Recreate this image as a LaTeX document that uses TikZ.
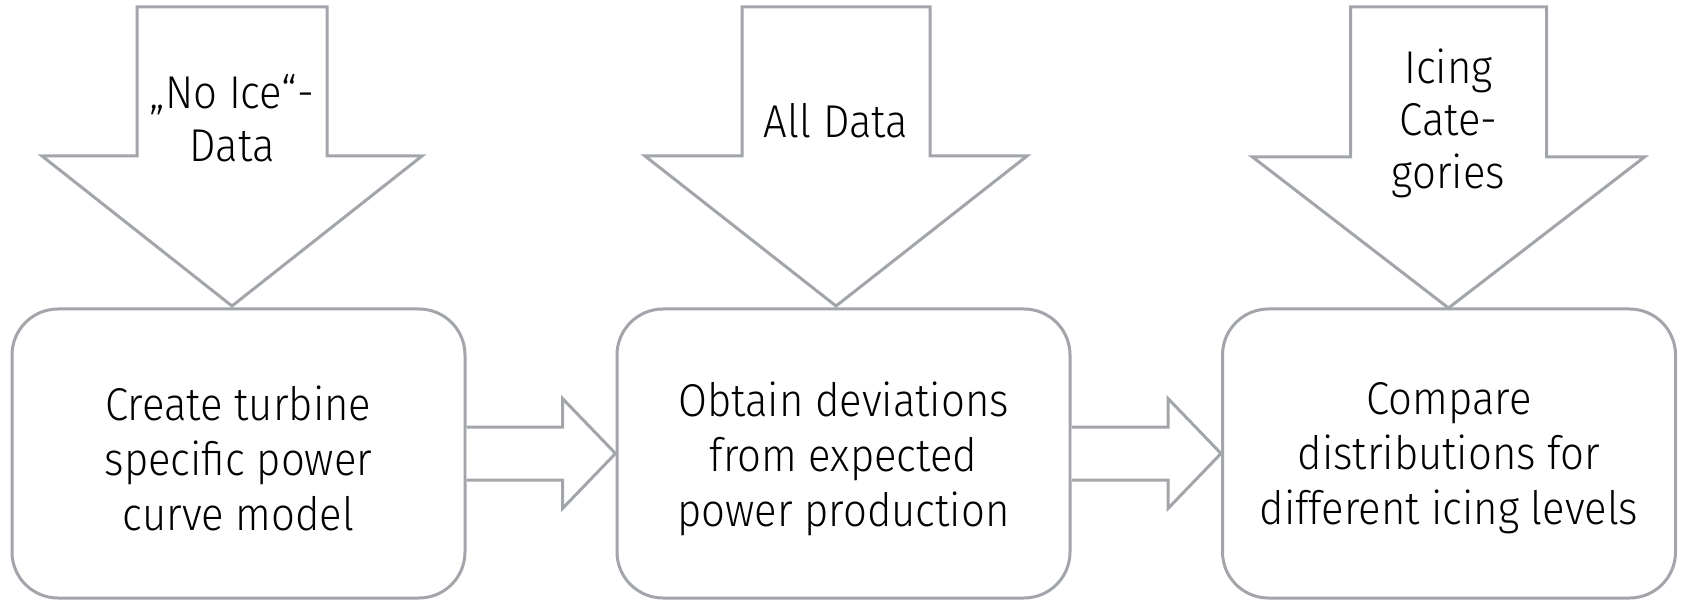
\documentclass[tikz,border=0pt]{standalone}
\usepackage{fontspec}
\IfFontExistsTF{Fira Sans Light}{\setmainfont{Fira Sans Light}[FakeStretch=0.91]}{\setmainfont{Fira Sans}[FakeStretch=0.91]}
\usetikzlibrary{calc}
\definecolor{linegray}{HTML}{A2A5AA}

\tikzset{
  outline/.style={draw=linegray, line width=3pt, line join=miter, fill=white},
  stepbox/.style={outline, rounded corners=46pt, minimum width=453pt,
    minimum height=289pt, inner sep=0pt},
  steptext/.style={align=center, inner sep=0pt,
    font=\fontsize{46}{55}\selectfont},
  inlabel/.style={align=center, inner sep=0pt,
    font=\fontsize{46}{52.5}\selectfont},
}

% block arrow pointing down: centre x, stem top, head base, tip, half stem, half head
\newcommand\downblock[6]{%
  \draw[outline] (#1-#5,#2) -- (#1+#5,#2) -- (#1+#5,#3) -- (#1+#6,#3)
    -- (#1,#4) -- (#1-#6,#3) -- (#1-#5,#3) -- cycle;}

% block arrow pointing right from one box to the next
\newcommand\rightblock[2]{%
  \draw[outline] let \p1=(#1.east), \p2=(#2.west) in
    (\x1,\y1+26.5pt) -- (\x2-53pt,\y1+26.5pt) -- (\x2-53pt,\y1+55pt)
    -- (\x2,\y2) -- (\x2-53pt,\y1-55pt) -- (\x2-53pt,\y1-26.5pt)
    -- (\x1,\y1-26.5pt);}

\begin{document}
\begin{tikzpicture}[x=1pt, y=-1pt]
  \useasboundingbox (0,0) rectangle (1683,601);

  % process steps
  \node[stepbox] (model) at (238.5,453.5) {};
  \node[steptext] (modeltext) at ($(model.center)+(0,5)$)
    {Create turbine\\specific power\\curve model};
  \node[stepbox] (dev) at (843.5,453.5) {};
  \node[steptext] (devtext) at ($(dev.center)+(0,5)$)
    {Obtain deviations\\from expected\\power production};
  \node[stepbox] (comp) at (1449,453.5) {};
  \node[steptext] (comptext) at ($(comp.center)+(0,5)$)
    {Compare\\distributions for\\different icing levels};

  % data inputs
  \downblock{232}{7}{156}{306}{95}{190}
  \node[inlabel] (noice) at (232,118) {„No Ice“-\\Data};
  \downblock{836}{7}{156}{306}{94}{191}
  \node[inlabel] (alldata) at (836,121) {All Data};
  \downblock{1448.5}{7}{157}{308}{98}{196}
  \node[inlabel] (icing) at (1448.5,123) {Icing\\Cate-\\gories};

  % flow between steps
  \rightblock{model}{dev}
  \rightblock{dev}{comp}
\end{tikzpicture}
\end{document}
